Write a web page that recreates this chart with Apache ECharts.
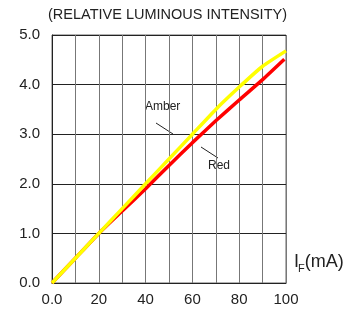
<!DOCTYPE html>
<html>
<head>
<meta charset="utf-8">
<script src="https://cdn.jsdelivr.net/npm/echarts@6/dist/echarts.min.js"></script>
<style>
  html, body { margin: 0; padding: 0; background: #fff; }
  #chart { width: 347px; height: 313px; }
</style>
</head>
<body>
<div id="chart"></div>
<script>
// forward current (mA) and relative luminous intensity
const amberX = [0, 10, 20, 30, 40, 50, 60, 70, 80, 90, 100]
const amberY = [0, 0.5, 1.0, 1.5, 2.0, 2.5, 3.0, 3.5, 3.95, 4.37, 4.68]
const redX = [0, 10, 20, 30, 40, 50, 60, 70, 80, 90, 99.3]
const redY = [0, 0.5, 1.0, 1.45, 1.9, 2.37, 2.83, 3.27, 3.69, 4.1, 4.51]
const xTickLabels = { 0: '0.0', 20: '20', 40: '40', 60: '60', 80: '80', 100: '100' }

const font = "'Liberation Sans', Arial, sans-serif"

const zip = (xs, ys) => xs.map((x, i) => [x, ys[i]])

const chart = echarts.init(document.getElementById('chart'))
const option = {
  animation: false,
  backgroundColor: '#fff',
  grid: {
    left: 52,
    right: 61,
    top: 35,
    bottom: 30,
    show: true,
    borderColor: '#666',
    borderWidth: 1
  },
  xAxis: {
    type: 'value',
    min: 0,
    max: 100,
    interval: 10,
    axisLine: { show: true, lineStyle: { color: '#222', width: 1 } },
    axisTick: { show: false },
    splitLine: { show: true, lineStyle: { color: '#777', width: 1 } },
    axisLabel: {
      color: '#222',
      fontSize: 15,
      fontFamily: font,
      margin: 9,
      formatter: v => xTickLabels[v] || ''
    }
  },
  yAxis: {
    type: 'value',
    min: 0,
    max: 5,
    interval: 1,
    axisLine: { show: true, lineStyle: { color: '#222', width: 1 } },
    axisTick: { show: false },
    splitLine: { show: true, lineStyle: { color: '#222', width: 1 } },
    axisLabel: {
      color: '#222',
      fontSize: 15,
      fontFamily: font,
      margin: 12,
      padding: [6, 0, 0, 0],
      formatter: v => v.toFixed(1)
    }
  },
  series: [
    {
      name: 'Red',
      type: 'line',
      showSymbol: false,
      smooth: 0.15,
      data: zip(redX, redY),
      lineStyle: { color: '#ff0000', width: 3.5 },
      z: 2
    },
    {
      name: 'Amber',
      type: 'line',
      showSymbol: false,
      smooth: 0.15,
      data: zip(amberX, amberY),
      lineStyle: { color: '#ffff00', width: 3.5 },
      z: 3
    }
  ],
  graphic: [
    {
      type: 'text',
      left: 48,
      top: 7,
      style: { text: '(RELATIVE LUMINOUS INTENSITY)', fill: '#222', font: '14.5px ' + font }
    },
    {
      type: 'text',
      x: 145,
      y: 101,
      style: { text: 'Amber', fill: '#222', font: '12px ' + font }
    },
    {
      type: 'line',
      shape: { x1: 156, y1: 123, x2: 173, y2: 134 },
      style: { stroke: '#222', lineWidth: 1 }
    },
    {
      type: 'text',
      x: 208,
      y: 160,
      style: { text: 'Red', fill: '#222', font: '12px ' + font }
    },
    {
      type: 'line',
      shape: { x1: 201, y1: 147, x2: 218, y2: 158 },
      style: { stroke: '#222', lineWidth: 1 }
    },
    {
      type: 'text',
      x: 294,
      y: 253,
      style: {
        text: '{a|I}{b|F}{a|(mA)}',
        rich: {
          a: { fontSize: 18, fontFamily: font, fill: '#222', verticalAlign: 'bottom' },
          b: { fontSize: 11, fontFamily: font, fill: '#222', verticalAlign: 'bottom', padding: [0, 0, -3, -1] }
        }
      }
    }
  ]
}
chart.setOption(option)
</script>
</body>
</html>
